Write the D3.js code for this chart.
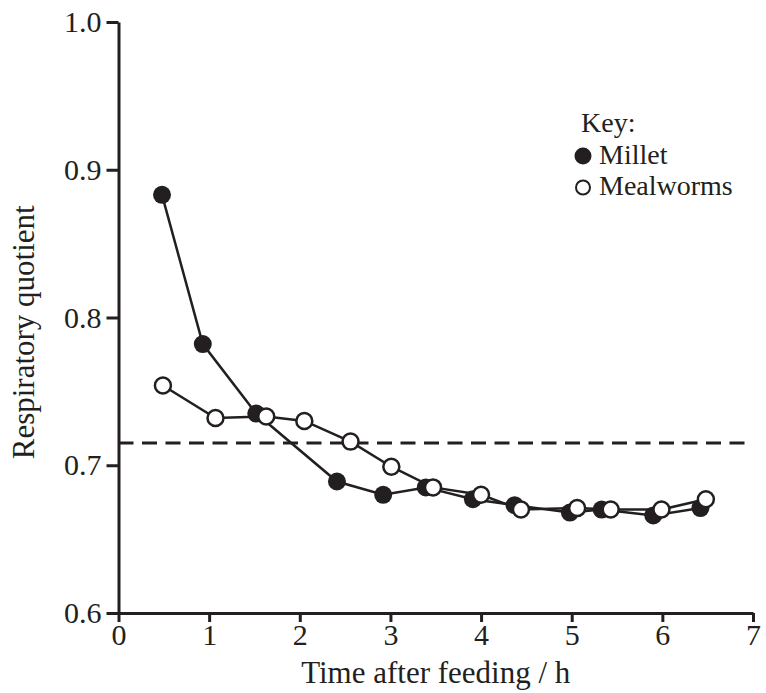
<!DOCTYPE html>
<html>
<head>
<meta charset="utf-8">
<script src="https://cdn.jsdelivr.net/npm/d3@7"></script>
<style>
  body { margin: 0; background: #fff; }
  text { font-family: "Liberation Serif", "Times New Roman", serif; fill: #231f20; }
</style>
</head>
<body>
<div id="viz"></div>
<script>
// values (time in h, RQ)
var milletTime = [0.48, 0.93, 1.52, 2.41, 2.92, 3.39, 3.91, 4.37, 4.98, 5.33, 5.90, 6.42];
var milletRQ   = [0.883, 0.782, 0.735, 0.689, 0.680, 0.685, 0.677, 0.673, 0.668, 0.670, 0.666, 0.671];
var mealTime   = [0.49, 1.07, 1.63, 2.05, 2.56, 3.01, 3.47, 4.00, 4.44, 5.06, 5.43, 5.99, 6.48];
var mealRQ     = [0.754, 0.732, 0.733, 0.730, 0.716, 0.699, 0.685, 0.680, 0.670, 0.671, 0.670, 0.670, 0.677];
var xTicks = [0, 1, 2, 3, 4, 5, 6, 7];
var yTicks = [0.6, 0.7, 0.8, 0.9, 1.0];
var fatLine = 0.715;   // dashed reference line
var dashEnd = 6.95;

var width = 766,
    height = 693,
    ink = '#231f20',
    serif = '"Liberation Serif", "Times New Roman", serif';

var x = d3.scaleLinear().domain([0, 7]).range([118.5, 753]);
var y = d3.scaleLinear().domain([0.6, 1.0]).range([613, 22]);

var svg = d3.select('#viz').append('svg')
  .attr('width', width)
  .attr('height', height);

// axes
var xAxis = svg.append('g')
  .attr('transform', 'translate(0,' + y(0.6) + ')')
  .call(d3.axisBottom(x).tickValues(xTicks).tickSize(9).tickSizeOuter(0).tickPadding(2).tickFormat(d3.format('d')));

var yAxis = svg.append('g')
  .attr('transform', 'translate(' + x(0) + ',0)')
  .call(d3.axisLeft(y).tickValues(yTicks).tickSize(12).tickSizeOuter(0).tickPadding(5).tickFormat(d3.format('.1f')));

[xAxis, yAxis].forEach(function(g){
  g.attr('font-family', serif).attr('font-size', 30);
  g.select('.domain').attr('stroke', ink).attr('stroke-width', 3);
  g.selectAll('.tick line').attr('stroke', ink).attr('stroke-width', 3);
  g.selectAll('.tick text').attr('fill', ink);
});

// axis titles
svg.append('text')
  .attr('x', (x(0) + x(7)) / 2)
  .attr('y', 683)
  .attr('text-anchor', 'middle')
  .style('font-size', '31px')
  .text('Time after feeding / h');

svg.append('text')
  .attr('transform', 'translate(34,' + y(0.79) + ') rotate(-90)')
  .attr('text-anchor', 'middle')
  .style('font-size', '31px')
  .text('Respiratory quotient');

// dashed line
svg.append('line')
  .attr('x1', x(0)).attr('x2', x(dashEnd))
  .attr('y1', y(fatLine)).attr('y2', y(fatLine))
  .attr('stroke', ink)
  .attr('stroke-width', 3)
  .attr('stroke-dasharray', '15,8.5');

var millet = milletTime.map(function(t, i){ return {t: t, rq: milletRQ[i]}; });
var meal = mealTime.map(function(t, i){ return {t: t, rq: mealRQ[i]}; });

var line = d3.line()
  .x(function(d){ return x(d.t); })
  .y(function(d){ return y(d.rq); });

[millet, meal].forEach(function(s){
  svg.append('path')
    .datum(s)
    .attr('d', line)
    .attr('fill', 'none')
    .attr('stroke', ink)
    .attr('stroke-width', 2.5);
});

svg.append('g').selectAll('circle').data(millet)
  .enter().append('circle')
  .attr('cx', function(d){ return x(d.t); })
  .attr('cy', function(d){ return y(d.rq); })
  .attr('r', 9)
  .attr('fill', ink);

svg.append('g').selectAll('circle').data(meal)
  .enter().append('circle')
  .attr('cx', function(d){ return x(d.t); })
  .attr('cy', function(d){ return y(d.rq); })
  .attr('r', 8)
  .attr('fill', '#fff')
  .attr('stroke', ink)
  .attr('stroke-width', 2.5);

// key
var key = svg.append('g').attr('transform', 'translate(581,0)');
key.append('text').attr('x', 0).attr('y', 132).style('font-size', '28px').text('Key:');
key.append('circle').attr('cx', 2).attr('cy', 156).attr('r', 8.5).attr('fill', ink);
key.append('text').attr('x', 18).attr('y', 164).style('font-size', '28px').text('Millet');
key.append('circle').attr('cx', 2).attr('cy', 187.5).attr('r', 7).attr('fill', '#fff')
  .attr('stroke', ink).attr('stroke-width', 2);
key.append('text').attr('x', 18).attr('y', 195).style('font-size', '28px').text('Mealworms');
</script>
</body>
</html>
